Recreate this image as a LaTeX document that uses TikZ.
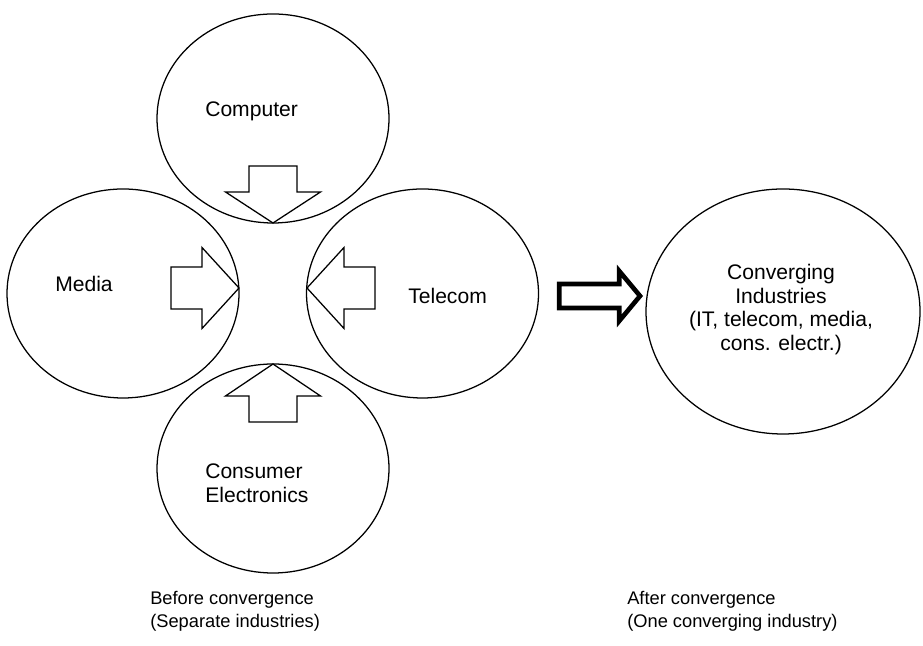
\documentclass[tikz,border=0pt]{standalone}
\usepackage{fontspec}
\setmainfont{Liberation Sans}
\usetikzlibrary{shapes.geometric}

\tikzset{
	industry/.style={ellipse, draw, line width=0.9pt, inner sep=0pt, outer sep=0pt},
	bigtext/.style={font=\fontsize{15}{16.8}\selectfont, inner sep=0pt},
	smalltext/.style={font=\fontsize{13}{16.4}\selectfont, inner sep=0pt},
	blockarrow/.style={draw, fill=white, line width=0.9pt, line join=miter},
}

\begin{document}
\begin{tikzpicture}
	\useasboundingbox (0,0) rectangle (23.075,16.15);
	
	% the four separate industries
	\node[industry, minimum width=5.8cm, minimum height=5.225cm] (computer) at (6.825,13.1875) {};
	\node[industry, minimum width=5.8cm, minimum height=5.225cm] (media) at (3.075,8.8125) {};
	\node[industry, minimum width=5.8cm, minimum height=5.225cm] (telecom) at (10.5625,8.8125) {};
	\node[industry, minimum width=5.8cm, minimum height=5.225cm] (consumer) at (6.825,4.4375) {};
	
	% the converged industry
	\node[industry, minimum width=6.85cm, minimum height=6.125cm] (converging) at (19.575,8.3625) {};
	
	\coordinate (tipcomputer) at (computer.south);
	\coordinate (tipconsumer) at (consumer.north);
	\coordinate (tipmedia) at (5.975,8.95);
	\coordinate (tiptelecom) at (7.675,8.95);
	
	\draw[blockarrow] (tipcomputer) -- ++(-1.1875,0.775) -- ++(0.5875,0) -- ++(0,0.65) -- ++(1.2,0) -- ++(0,-0.65) -- ++(0.5875,0) -- cycle;
	\draw[blockarrow] (tipconsumer) -- ++(-1.1875,-0.8) -- ++(0.5875,0) -- ++(0,-0.65) -- ++(1.2,0) -- ++(0,0.65) -- ++(0.5875,0) -- cycle;
	\draw[blockarrow] (tipmedia) -- ++(-0.925,1.0125) -- ++(0,-0.4875) -- ++(-0.775,0) -- ++(0,-1.05) -- ++(0.775,0) -- ++(0,-0.4875) -- cycle;
	\draw[blockarrow] (tiptelecom) -- ++(0.925,1.0125) -- ++(0,-0.4875) -- ++(0.775,0) -- ++(0,-1.05) -- ++(-0.775,0) -- ++(0,-0.4875) -- cycle;
	
	% big arrow towards convergence
	\draw[line width=3.3pt, line join=miter] (13.98,9.05) -- (15.48,9.05) -- (15.48,9.375) -- (16.0,8.75) -- (15.48,8.125) -- (15.48,8.45) -- (13.98,8.45) -- cycle;
	
	\node[bigtext, anchor=base west] (computertext) at (5.125,13.225) {Computer};
	\node[bigtext, anchor=base west] (mediatext) at (1.375,8.8575) {Media};
	\node[bigtext, anchor=base west] (telecomtext) at (10.2,8.55) {Telecom};
	\node[bigtext, anchor=west, align=left] (consumertext) at (5.125,4.07) {Consumer\\Electronics};
	\node[bigtext, align=center] (convergingtext) at (19.525,8.4125) {Converging\\Industries\\(IT, telecom, media,\\cons. electr.)};
	
	\node[smalltext, anchor=west, align=left] (before) at (3.75,0.8575) {Before convergence\\(Separate industries)};
	\node[smalltext, anchor=west, align=left] (after) at (15.675,0.8575) {After convergence\\(One converging industry)};
	
\end{tikzpicture}
\end{document}
